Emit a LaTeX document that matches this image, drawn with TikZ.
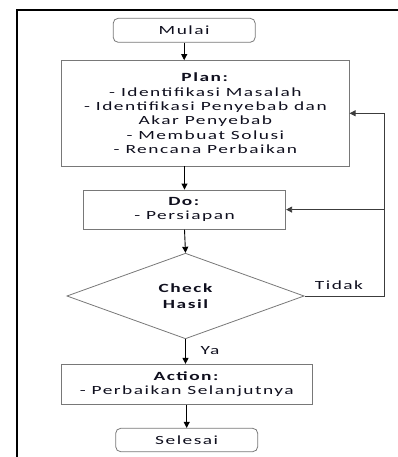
\documentclass[tikz,border=0pt]{standalone}
\usepackage{fontspec}
\setmainfont{Carlito}[FakeStretch=1.55, LetterSpace=12]
\usetikzlibrary{shapes.geometric,arrows.meta}
\definecolor{boxgray}{RGB}{120,120,120}
\definecolor{linegray}{RGB}{60,60,60}
\definecolor{txt}{RGB}{15,15,30}
\tikzset{
  box/.style={draw=boxgray, line width=0.8pt, align=center, inner sep=0pt, text=txt,
    font=\fontsize{12.5}{14.3}\selectfont},
  term/.style={box, rounded corners=5pt},
  dec/.style={box, shape=diamond, aspect=2.77, font=\fontsize{12.5}{16}\selectfont\bfseries},
  arr/.style={-{Triangle[length=6pt,width=6pt]}, line width=0.9pt, draw=black},
  fb/.style={-{Triangle[length=6pt,width=6pt]}, line width=0.8pt, draw=linegray},
  lbl/.style={text=txt, inner sep=0pt, font=\fontsize{12.5}{14.3}\selectfont},
}
\begin{document}
\begin{tikzpicture}[x=1pt,y=-1pt]
\useasboundingbox (0,0) rectangle (398,457);
% outer frame
\coordinate (fbl) at (17,457);
\coordinate (ftl) at (17,10);
\coordinate (ftr) at (398,10);
\draw[line width=2pt, black] (fbl) -- (ftl) -- (ftr);
% nodes
\node[term, minimum width=142, minimum height=24] (mulai) at (184.2,30.3) {Mulai};
\node[box, minimum width=287.5, minimum height=105.5] (plan) at (205.4,113.3)
  {\textbf{Plan:}\\- Identifikasi Masalah\\- Identifikasi Penyebab dan\\Akar Penyebab\\- Membuat Solusi\\- Rencana Perbaikan};
\node[box, minimum width=202.4, minimum height=39.3] (do) at (184.5,209.6)
  {\textbf{Do:}\\- Persiapan};
\node[dec, minimum width=237.3, minimum height=85.6] (dia) at (185.5,296) {Check\\Hasil};
\node[box, minimum width=251, minimum height=40] (action) at (186.8,384.3)
  {\textbf{Action:}\\- Perbaikan Selanjutnya};
\node[term, minimum width=142, minimum height=23.4] (selesai) at (186.7,440) {Selesai};
\node[lbl] (tidak) at (339,285) {Tidak};
\node[lbl] (ya) at (210,351) {Ya};
\coordinate (rx) at (384,0);
% connectors
\draw[arr] (mulai.south) -- (mulai.south |- plan.north);
\draw[arr] (do.north |- plan.south) -- (do.north);
\draw[arr] (do.south) -- (dia.north);
\draw[arr] (dia.south) -- (dia.south |- action.north);
\draw[arr] (action.south -| selesai.north) -- (selesai.north);
\draw[fb] (dia.east) -- (dia.east -| rx) -- (plan.east -| rx) -- (plan.east);
\draw[fb] (do.east -| rx) -- (do.east);
\end{tikzpicture}
\end{document}
